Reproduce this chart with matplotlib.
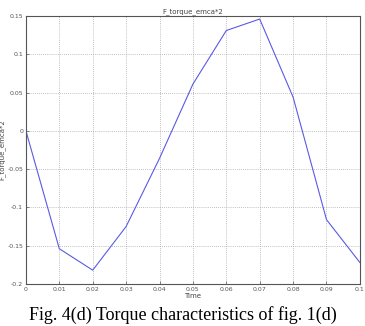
import matplotlib
matplotlib.use("Agg")
import matplotlib.pyplot as plt

time = [0.0, 0.01, 0.02, 0.03, 0.04, 0.05, 0.06, 0.07, 0.08, 0.09, 0.1]
torque = [0.0, -0.154, -0.182, -0.125, -0.036, 0.061, 0.131, 0.146, 0.044, -0.116, -0.172]
xticks = [0, 0.01, 0.02, 0.03, 0.04, 0.05, 0.06, 0.07, 0.08, 0.09, 0.1]
xticklabels = ["0", "0.01", "0.02", "0.03", "0.04", "0.05", "0.06", "0.07", "0.08", "0.09", "0.1"]
yticks = [-0.2, -0.15, -0.1, -0.05, 0, 0.05, 0.1, 0.15]
yticklabels = ["-0.2", "-0.15", "-0.1", "-0.05", "0", "0.05", "0.1", "0.15"]

fig = plt.figure(figsize=(3.65, 3.26), dpi=100)
ax = fig.add_axes([0.071, 0.129, 0.915, 0.822])
ax.plot(time, torque, color="#5a5ae6", lw=0.8)
ax.set_xlim(0, 0.1)
ax.set_ylim(-0.2, 0.15)
ax.set_xticks(xticks)
ax.set_xticklabels(xticklabels)
ax.set_yticks(yticks)
ax.set_yticklabels(yticklabels)
ax.tick_params(labelsize=4.5, length=2, width=0.5, colors="#555555", pad=2, direction="in")
ax.grid(True, linestyle=(0, (1, 1.5)), color="#aaaaaa", lw=0.6)
for s in ax.spines.values():
    s.set_linewidth(0.8)
    s.set_color("#555555")
ax.set_title("F_torque_emca*2", fontsize=5, color="#444444", pad=2)
ax.set_xlabel("Time", fontsize=5, color="#444444", labelpad=1)
ax.set_ylabel("F_torque_emca*2", fontsize=5, color="#444444", labelpad=1)
fig.text(0.5, 0.035, "Fig. 4(d) Torque characteristics of fig. 1(d)",
         ha="center", va="center", fontsize=13, family="Liberation Serif")
fig.savefig("out.png", dpi=100)
